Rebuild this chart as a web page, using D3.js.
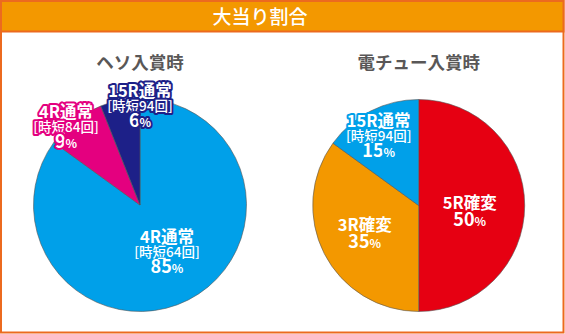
<!DOCTYPE html>
<html><head><meta charset="utf-8">
<script src="https://cdn.jsdelivr.net/npm/d3@7/dist/d3.min.js"></script>
<style>
html,body{margin:0;padding:0;background:#fff;}
svg{display:block;font-family:"Noto Sans CJK JP","Noto Sans",sans-serif;}
</style></head><body>
<svg id="c" width="565" height="334"></svg>
<script>
const chartTitle = "大当り割合";
const pieTitles = ["ヘソ入賞時", "電チュー入賞時"];
// Left pie (ヘソ)
const hesoLabels = ["4R通常", "4R通常", "15R通常"];
const hesoSubs = ["[時短64回]", "[時短84回]", "[時短94回]"];
const hesoValues = [85, 9, 6];
const hesoColors = ["#00A0E9", "#E4007F", "#1D2088"];
// Right pie (電チュー)
const denLabels = ["5R確変", "3R確変", "15R通常"];
const denSubs = ["", "", "[時短94回]"];
const denValues = [50, 35, 15];
const denColors = ["#E60012", "#F39800", "#00A0E9"];

const svg = d3.select("#c");
const W = 565, H = 334;

// background + header
svg.append("rect").attr("x",1).attr("y",1).attr("width",W-2.5).attr("height",H-2.5)
  .attr("fill","#fff").attr("stroke","#EC6A1F").attr("stroke-width",2);
svg.append("rect").attr("x",1).attr("y",1).attr("width",W-2.5).attr("height",30.5)
  .attr("fill","#F39800").attr("stroke","#EC6A1F").attr("stroke-width",2);
svg.append("text").attr("x",260).attr("y",24).attr("text-anchor","middle")
  .attr("fill","#fff").attr("font-size",19).attr("font-weight",500).text(chartTitle);

const layout = [
  {cx:140, cy:205, r:106.5, title:pieTitles[0], labels:hesoLabels, subs:hesoSubs, values:hesoValues, colors:hesoColors,
   pos:[{x:27,y:38,outline:false},{x:-74,y:-87,outline:true},{x:0,y:-108,outline:true}]},
  {cx:418.7, cy:205.5, r:106, title:pieTitles[1], labels:denLabels, subs:denSubs, values:denValues, colors:denColors,
   pos:[{x:51,y:3.5,outline:false},{x:-54,y:25.5,outline:false},{x:-40,y:-78.5,outline:true}]}
];

layout.forEach(p => {
  const g = svg.append("g").attr("transform",`translate(${p.cx},${p.cy})`);
  const pie = d3.pie().sort(null).value(d=>d)(p.values);
  const arc = d3.arc().innerRadius(0).outerRadius(p.r);
  g.selectAll("path").data(pie).join("path")
    .attr("d",arc).attr("fill",(d,i)=>p.colors[i])
    .attr("stroke","#555").attr("stroke-width",0.6);
  svg.append("text").attr("x",p.cx).attr("y",69).attr("text-anchor","middle")
    .attr("fill","#595757").attr("font-size",17.5).attr("font-weight",700).text(p.title);
  pie.forEach((d,i) => {
    const ps = p.pos[i];
    const t = g.append("text").attr("transform",`translate(${ps.x},${ps.y})`)
      .attr("text-anchor","middle").attr("fill","#fff").attr("font-weight",700);
    if (ps.outline) t.attr("stroke",p.colors[i]).attr("stroke-width",4)
      .attr("stroke-linejoin","round").attr("paint-order","stroke");
    t.append("tspan").attr("x",0).attr("y",0).attr("font-size",16.5).text(p.labels[i]);
    let y;
    if (p.subs[i]) {
      t.append("tspan").attr("x",0).attr("y",14).attr("font-size",13.5).attr("font-weight",500).text(p.subs[i]);
      y = 29.5;
    } else y = 17;
    t.append("tspan").attr("x",0).attr("y",y).attr("font-size",18).text(p.values[i]);
    t.append("tspan").attr("font-size",12).text("%");
  });
});
</script>
</body></html>
